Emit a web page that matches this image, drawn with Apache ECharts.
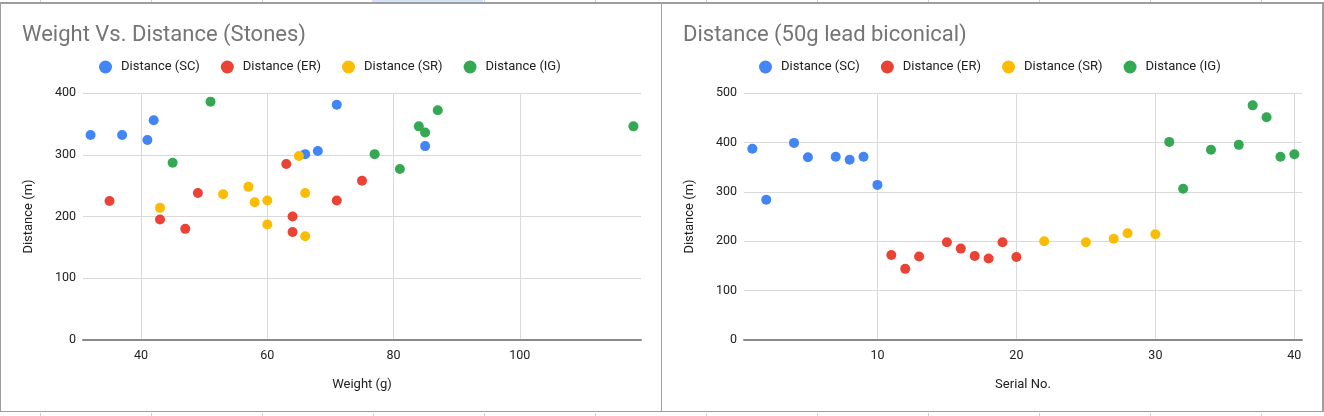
<!DOCTYPE html>
<html>
<head>
<meta charset="utf-8">
<script src="https://cdn.jsdelivr.net/npm/echarts@6/dist/echarts.min.js"></script>
<style>
html,body{margin:0;padding:0;background:#fff;width:1324px;height:416px;overflow:hidden;}
.col{position:absolute;width:1px;background:#d0d0d0;}
#hl{position:absolute;left:372px;top:0;width:111px;height:2px;background:#d3e3fd;}
.panel{position:absolute;top:2px;height:410px;border:1px solid #9e9e9e;box-sizing:border-box;}
#chart{position:absolute;left:0;top:0;width:1324px;height:416px;}
</style>
</head>
<body>
<div id="hl"></div>
<div class="panel" style="left:0;width:662px;border-width:2px 1px 1px 1px;"></div>
<div class="panel" style="left:661px;width:663px;border-width:2px 2px 1px 1px;"></div>
<div id="chart"></div>
<script>
// ---- data ----
var seriesNames = ['Distance (SC)', 'Distance (ER)', 'Distance (SR)', 'Distance (IG)'];
var colors = ['#4285f4', '#ea4335', '#fbbc04', '#34a853'];

// Chart 1: Weight (g) vs Distance (m)
var weightSC = [32, 37, 41, 42, 71, 66, 68, 85];
var distSC   = [332, 332, 324, 356, 381, 301, 306, 314];
var weightER = [35, 43, 47, 49, 63, 64, 64, 71, 75];
var distER   = [225, 195, 180, 238, 285, 200, 175, 226, 258];
var weightSR = [43, 53, 57, 58, 60, 60, 65, 66, 66];
var distSR   = [214, 236, 248, 223, 226, 187, 298, 238, 168];
var weightIG = [51, 45, 77, 81, 84, 85, 87, 118];
var distIG   = [386, 287, 301, 277, 346, 336, 372, 346];

// Chart 2: Serial No. vs Distance (m)
var serialSC = [1, 2, 4, 5, 7, 8, 9, 10];
var dist2SC  = [387, 284, 399, 370, 371, 365, 371, 314];
var serialER = [11, 12, 13, 15, 16, 17, 18, 19, 20];
var dist2ER  = [172, 144, 169, 198, 185, 170, 165, 198, 168];
var serialSR = [22, 25, 27, 28, 30];
var dist2SR  = [200, 198, 205, 216, 214];
var serialIG = [31, 32, 34, 36, 37, 38, 39, 40];
var dist2IG  = [401, 306, 385, 395, 475, 451, 371, 376];

var xTicks1 = [40, 60, 80, 100];
var xTicks2 = [10, 20, 30, 40];

// ---- spreadsheet column ticks ----
for (var c = 0; c < 12; c++) {
  var x = 40 + 111 * c;
  ['top:0;height:2px', 'top:413px;height:3px'].forEach(function (s) {
    var d = document.createElement('div');
    d.className = 'col';
    d.setAttribute('style', 'left:' + x + 'px;' + s);
    document.body.insertBefore(d, document.body.firstChild);
  });
}

function pairs(xs, ys) { return xs.map(function (v, i) { return [v, ys[i]]; }); }

var font = 'Roboto, Arial, sans-serif';
var chart = echarts.init(document.getElementById('chart'), null, {renderer: 'canvas'});

function xAxisCfg(idx, min, max, ticks, name) {
  return {
    type: 'value', gridIndex: idx, min: min, max: max,
    name: name, nameLocation: 'middle', nameGap: 38,
    nameTextStyle: {color: '#222', fontSize: 13, fontFamily: font},
    axisLine: {show: true, onZero: false, lineStyle: {color: '#8a8a8a', width: 2}},
    axisTick: {show: false, customValues: ticks},
    axisLabel: {customValues: ticks, color: '#222', fontSize: 12.5, fontFamily: font, margin: 9},
    splitLine: {show: true, lineStyle: {color: '#d9d9d9', width: 1}}
  };
}
function yAxisCfg(idx, max) {
  return {
    type: 'value', gridIndex: idx, min: 0, max: max, interval: 100,
    name: 'Distance (m)', nameLocation: 'middle', nameGap: 48,
    nameTextStyle: {color: '#222', fontSize: 13, fontFamily: font},
    axisLine: {show: false}, axisTick: {show: false},
    axisLabel: {color: '#222', fontSize: 12.5, fontFamily: font, margin: 7},
    splitLine: {show: true, lineStyle: {color: '#d9d9d9', width: 1}}
  };
}

var groups1 = [[weightSC, distSC], [weightER, distER], [weightSR, distSR], [weightIG, distIG]];
var groups2 = [[serialSC, dist2SC], [serialER, dist2ER], [serialSR, dist2SR], [serialIG, dist2IG]];
var series = [];
groups1.forEach(function (g, i) {
  series.push({type: 'scatter', name: seriesNames[i], xAxisIndex: 0, yAxisIndex: 0,
    data: pairs(g[0], g[1]), symbolSize: 10, itemStyle: {color: colors[i], opacity: 1}, silent: true});
});
groups2.forEach(function (g, i) {
  series.push({type: 'scatter', name: seriesNames[i], xAxisIndex: 1, yAxisIndex: 1,
    data: pairs(g[0], g[1]), symbolSize: 10, itemStyle: {color: colors[i], opacity: 1}, silent: true});
});

function legendCfg(left) {
  return {
    left: left, top: 60.5, padding: 0, data: seriesNames, icon: 'circle',
    itemWidth: 13, itemHeight: 13, itemGap: 21, selectedMode: false,
    textStyle: {color: '#222', fontSize: 13, fontFamily: font, padding: [0, 0, 0, 4]}
  };
}

chart.setOption({
  animation: false,
  color: colors,
  title: [
    {text: 'Weight Vs. Distance (Stones)', left: 22, top: 24, padding: 0,
      textStyle: {color: '#757575', fontSize: 22, fontWeight: 'normal', fontFamily: font}},
    {text: 'Distance (50g lead biconical)', left: 683, top: 24, padding: 0,
      textStyle: {color: '#757575', fontSize: 22, fontWeight: 'normal', fontFamily: font}}
  ],
  legend: [legendCfg(99), legendCfg(759)],
  grid: [
    {left: 83, top: 93, width: 558, height: 247},
    {left: 744, top: 93, width: 558, height: 247}
  ],
  xAxis: [xAxisCfg(0, 30.8, 119.2, xTicks1, 'Weight (g)'), xAxisCfg(1, 0.4, 40.55, xTicks2, 'Serial No.')],
  yAxis: [yAxisCfg(0, 400), yAxisCfg(1, 500)],
  series: series
});
</script>
</body>
</html>
